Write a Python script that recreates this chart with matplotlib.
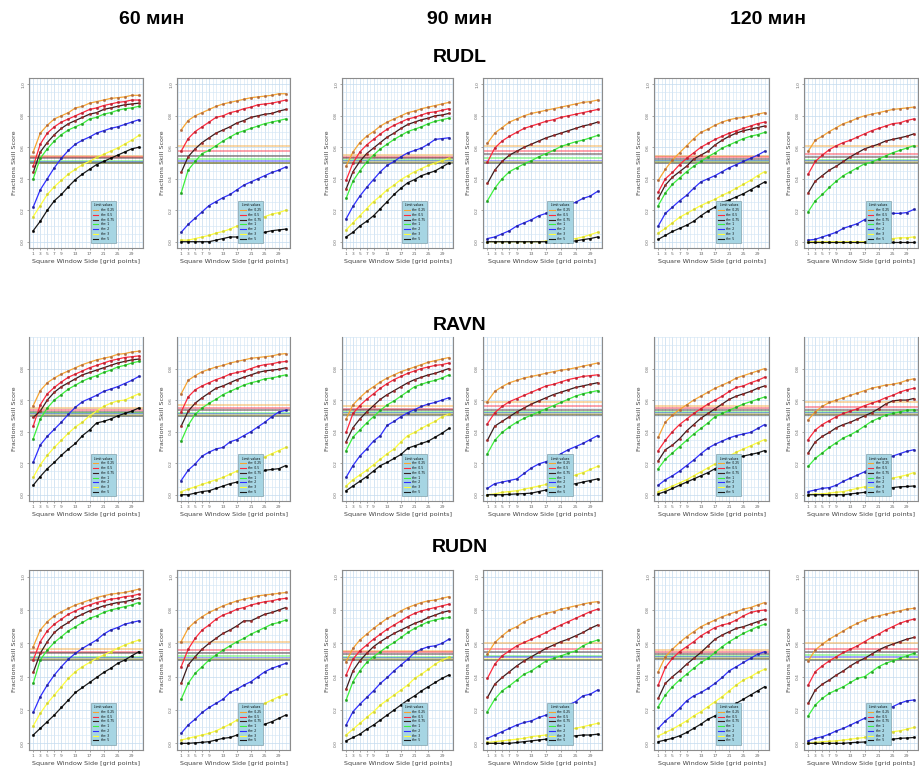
import matplotlib
matplotlib.use("Agg")
import matplotlib.pyplot as plt
from matplotlib.lines import Line2D

# window sizes (grid points)
WINDOW = [1, 3, 5, 7, 9, 11, 13, 15, 17, 19, 21, 23, 25, 27, 29, 31]
X_TICKS = [1, 3, 5, 7, 9, 13, 17, 21, 25, 29]
THRESH_LABELS = ["thr: 0.25", "thr: 0.5", "thr: 0.75", "thr: 1", "thr: 2", "thr: 3", "thr: 5"]
LEGEND_TITLE = "Limit values"
TIMES = ["60 мин", "90 мин", "120 мин"]
STATIONS = ["RUDL", "RAVN", "RUDN"]

# ---- RUDL ----
RUDL_60_A = [
    [0.57, 0.69, 0.74, 0.78, 0.80, 0.82, 0.85, 0.86, 0.88, 0.89, 0.90, 0.91, 0.915, 0.92, 0.93, 0.93],
    [0.48, 0.62, 0.69, 0.73, 0.76, 0.78, 0.80, 0.82, 0.84, 0.85, 0.865, 0.875, 0.885, 0.89, 0.90, 0.90],
    [0.44, 0.57, 0.63, 0.68, 0.72, 0.75, 0.77, 0.79, 0.81, 0.82, 0.84, 0.85, 0.86, 0.87, 0.875, 0.88],
    [0.40, 0.53, 0.59, 0.64, 0.68, 0.71, 0.73, 0.75, 0.78, 0.79, 0.81, 0.82, 0.835, 0.845, 0.85, 0.86],
    [0.22, 0.33, 0.40, 0.47, 0.53, 0.58, 0.62, 0.645, 0.665, 0.69, 0.705, 0.72, 0.73, 0.745, 0.76, 0.775],
    [0.16, 0.23, 0.30, 0.35, 0.39, 0.43, 0.46, 0.49, 0.51, 0.535, 0.555, 0.575, 0.595, 0.62, 0.645, 0.675],
    [0.07, 0.13, 0.20, 0.26, 0.30, 0.35, 0.395, 0.43, 0.46, 0.49, 0.51, 0.53, 0.55, 0.57, 0.59, 0.60],
]
RUDL_60_A_REF = [0.545, 0.535, 0.53, 0.51, 0.505, 0.502, 0.50]
RUDL_60_B = [
    [0.71, 0.77, 0.80, 0.82, 0.84, 0.86, 0.875, 0.885, 0.895, 0.905, 0.915, 0.92, 0.925, 0.93, 0.94, 0.94],
    [0.575, 0.655, 0.70, 0.73, 0.76, 0.79, 0.80, 0.82, 0.83, 0.845, 0.855, 0.87, 0.875, 0.88, 0.89, 0.90],
    [0.44, 0.54, 0.59, 0.63, 0.66, 0.69, 0.71, 0.73, 0.755, 0.77, 0.79, 0.80, 0.81, 0.815, 0.83, 0.84],
    [0.31, 0.455, 0.51, 0.56, 0.58, 0.61, 0.64, 0.665, 0.69, 0.705, 0.72, 0.735, 0.75, 0.76, 0.77, 0.78],
    [0.06, 0.11, 0.15, 0.19, 0.23, 0.255, 0.28, 0.30, 0.33, 0.36, 0.38, 0.40, 0.42, 0.44, 0.455, 0.475],
    [0.01, 0.01, 0.02, 0.03, 0.04, 0.055, 0.065, 0.08, 0.10, 0.11, 0.13, 0.145, 0.16, 0.175, 0.185, 0.20],
    [0.0, 0.0, 0.0, 0.0, 0.0, 0.01, 0.02, 0.03, 0.03, 0.04, 0.05, 0.05, 0.06, 0.07, 0.075, 0.08],
]
RUDL_60_B_REF = [0.61, 0.575, 0.545, 0.525, 0.51, 0.503, 0.50]
RUDL_90_A = [
    [0.48, 0.57, 0.63, 0.67, 0.70, 0.735, 0.76, 0.78, 0.80, 0.82, 0.83, 0.845, 0.855, 0.865, 0.875, 0.885],
    [0.39, 0.50, 0.57, 0.615, 0.65, 0.685, 0.715, 0.74, 0.76, 0.78, 0.79, 0.805, 0.82, 0.825, 0.835, 0.845],
    [0.335, 0.445, 0.51, 0.56, 0.595, 0.63, 0.665, 0.69, 0.72, 0.745, 0.76, 0.775, 0.785, 0.80, 0.805, 0.815],
    [0.275, 0.385, 0.45, 0.505, 0.55, 0.59, 0.62, 0.65, 0.675, 0.70, 0.715, 0.73, 0.75, 0.765, 0.775, 0.785],
    [0.145, 0.225, 0.29, 0.345, 0.395, 0.445, 0.485, 0.51, 0.54, 0.565, 0.58, 0.595, 0.62, 0.65, 0.655, 0.66],
    [0.075, 0.12, 0.165, 0.21, 0.255, 0.29, 0.33, 0.36, 0.395, 0.42, 0.445, 0.465, 0.485, 0.50, 0.515, 0.53],
    [0.03, 0.06, 0.10, 0.13, 0.165, 0.21, 0.255, 0.30, 0.34, 0.375, 0.395, 0.42, 0.435, 0.45, 0.475, 0.50],
]
RUDL_90_A_REF = [0.55, 0.54, 0.53, 0.52, 0.51, 0.505, 0.50]
RUDL_90_B = [
    [0.625, 0.69, 0.725, 0.76, 0.78, 0.80, 0.815, 0.825, 0.835, 0.845, 0.855, 0.865, 0.875, 0.885, 0.89, 0.90],
    [0.505, 0.595, 0.64, 0.67, 0.695, 0.72, 0.735, 0.75, 0.765, 0.775, 0.79, 0.80, 0.81, 0.82, 0.83, 0.84],
    [0.37, 0.455, 0.51, 0.55, 0.575, 0.60, 0.62, 0.64, 0.66, 0.675, 0.69, 0.705, 0.72, 0.735, 0.745, 0.76],
    [0.26, 0.34, 0.40, 0.445, 0.47, 0.495, 0.515, 0.54, 0.56, 0.58, 0.605, 0.62, 0.635, 0.645, 0.66, 0.675],
    [0.02, 0.03, 0.05, 0.07, 0.10, 0.12, 0.14, 0.165, 0.18, 0.20, 0.215, 0.235, 0.25, 0.275, 0.29, 0.32],
    [0.0, 0.0, 0.0, 0.0, 0.0, 0.0, 0.0, 0.0, 0.003, 0.005, 0.01, 0.015, 0.02, 0.03, 0.045, 0.06],
    [0.0, 0.0, 0.0, 0.0, 0.0, 0.0, 0.0, 0.0, 0.0, 0.0, 0.0, 0.0, 0.005, 0.013, 0.02, 0.03],
]
RUDL_90_B_REF = [0.61, 0.575, 0.56, 0.53, 0.51, 0.505, 0.50]
RUDL_120_A = [
    [0.39, 0.46, 0.52, 0.565, 0.61, 0.655, 0.695, 0.715, 0.74, 0.76, 0.775, 0.785, 0.79, 0.80, 0.81, 0.82],
    [0.315, 0.40, 0.44, 0.49, 0.53, 0.565, 0.60, 0.625, 0.65, 0.67, 0.69, 0.705, 0.72, 0.735, 0.75, 0.76],
    [0.275, 0.36, 0.41, 0.445, 0.48, 0.525, 0.55, 0.575, 0.615, 0.645, 0.67, 0.69, 0.705, 0.715, 0.725, 0.735],
    [0.23, 0.31, 0.365, 0.405, 0.445, 0.48, 0.51, 0.54, 0.565, 0.595, 0.615, 0.635, 0.655, 0.67, 0.68, 0.695],
    [0.10, 0.18, 0.22, 0.26, 0.295, 0.34, 0.38, 0.40, 0.42, 0.445, 0.47, 0.49, 0.51, 0.53, 0.55, 0.575],
    [0.055, 0.085, 0.12, 0.155, 0.18, 0.205, 0.23, 0.25, 0.27, 0.295, 0.315, 0.34, 0.365, 0.39, 0.42, 0.445],
    [0.015, 0.04, 0.065, 0.085, 0.105, 0.13, 0.165, 0.195, 0.22, 0.25, 0.265, 0.285, 0.305, 0.33, 0.355, 0.38],
]
RUDL_120_A_REF = [0.545, 0.535, 0.525, 0.515, 0.51, 0.505, 0.50]
RUDL_120_B = [
    [0.575, 0.645, 0.67, 0.70, 0.725, 0.75, 0.765, 0.785, 0.80, 0.81, 0.82, 0.83, 0.84, 0.845, 0.85, 0.855],
    [0.43, 0.51, 0.55, 0.585, 0.61, 0.63, 0.645, 0.665, 0.685, 0.705, 0.72, 0.735, 0.75, 0.755, 0.77, 0.78],
    [0.31, 0.385, 0.42, 0.455, 0.48, 0.51, 0.54, 0.565, 0.59, 0.605, 0.62, 0.64, 0.65, 0.66, 0.67, 0.685],
    [0.19, 0.26, 0.30, 0.345, 0.385, 0.42, 0.445, 0.47, 0.495, 0.505, 0.525, 0.545, 0.565, 0.58, 0.595, 0.61],
    [0.01, 0.015, 0.03, 0.045, 0.06, 0.085, 0.10, 0.115, 0.14, 0.165, 0.18, 0.185, 0.18, 0.18, 0.185, 0.205],
    [0.0, 0.0, 0.0, 0.0, 0.0, 0.0, 0.0, 0.0, 0.0, 0.005, 0.01, 0.015, 0.02, 0.025, 0.025, 0.03],
    [0.0, 0.0, 0.0, 0.0, 0.0, 0.0, 0.0, 0.0, 0.0, 0.0, 0.0, 0.0, 0.0, 0.0, 0.0, 0.0],
]
RUDL_120_B_REF = [0.605, 0.555, 0.54, 0.52, 0.51, 0.505, 0.50]

# ---- RAVN ----
RAVN_60_A = [
    [0.565, 0.66, 0.71, 0.74, 0.765, 0.785, 0.805, 0.825, 0.84, 0.855, 0.865, 0.875, 0.89, 0.895, 0.905, 0.91],
    [0.435, 0.57, 0.64, 0.68, 0.715, 0.745, 0.765, 0.785, 0.805, 0.82, 0.835, 0.85, 0.86, 0.87, 0.875, 0.88],
    [0.49, 0.53, 0.60, 0.65, 0.685, 0.71, 0.735, 0.76, 0.775, 0.79, 0.805, 0.82, 0.835, 0.845, 0.855, 0.86],
    [0.355, 0.48, 0.55, 0.60, 0.635, 0.67, 0.695, 0.72, 0.74, 0.755, 0.775, 0.79, 0.81, 0.82, 0.835, 0.845],
    [0.205, 0.315, 0.37, 0.415, 0.46, 0.51, 0.555, 0.59, 0.61, 0.63, 0.655, 0.67, 0.685, 0.705, 0.725, 0.75],
    [0.11, 0.19, 0.25, 0.30, 0.345, 0.39, 0.43, 0.46, 0.50, 0.53, 0.56, 0.58, 0.595, 0.60, 0.62, 0.64],
    [0.06, 0.115, 0.165, 0.205, 0.25, 0.29, 0.325, 0.375, 0.41, 0.455, 0.465, 0.48, 0.50, 0.515, 0.53, 0.55],
]
RAVN_60_A_REF = [0.55, 0.535, 0.525, 0.515, 0.51, 0.505, 0.50]
RAVN_60_B = [
    [0.64, 0.725, 0.755, 0.78, 0.795, 0.81, 0.82, 0.835, 0.845, 0.855, 0.865, 0.87, 0.875, 0.88, 0.89, 0.895],
    [0.525, 0.62, 0.665, 0.69, 0.71, 0.73, 0.745, 0.765, 0.775, 0.785, 0.80, 0.815, 0.825, 0.83, 0.84, 0.845],
    [0.435, 0.53, 0.58, 0.615, 0.645, 0.675, 0.69, 0.71, 0.73, 0.745, 0.76, 0.775, 0.785, 0.79, 0.795, 0.805],
    [0.34, 0.44, 0.51, 0.55, 0.58, 0.605, 0.635, 0.655, 0.675, 0.695, 0.71, 0.72, 0.735, 0.74, 0.75, 0.76],
    [0.09, 0.155, 0.195, 0.245, 0.27, 0.29, 0.30, 0.335, 0.35, 0.375, 0.40, 0.43, 0.46, 0.495, 0.525, 0.535],
    [0.02, 0.035, 0.05, 0.065, 0.08, 0.095, 0.11, 0.13, 0.15, 0.17, 0.19, 0.215, 0.24, 0.26, 0.28, 0.30],
    [0.0, 0.0, 0.01, 0.02, 0.025, 0.04, 0.055, 0.07, 0.08, 0.095, 0.11, 0.13, 0.155, 0.16, 0.165, 0.185],
]
RAVN_60_B_REF = [0.57, 0.55, 0.535, 0.52, 0.51, 0.505, 0.50]
RAVN_90_A = [
    [0.48, 0.57, 0.615, 0.655, 0.685, 0.715, 0.74, 0.76, 0.78, 0.795, 0.81, 0.825, 0.84, 0.85, 0.86, 0.87],
    [0.395, 0.515, 0.565, 0.605, 0.64, 0.675, 0.705, 0.73, 0.75, 0.77, 0.785, 0.80, 0.81, 0.82, 0.825, 0.835],
    [0.335, 0.425, 0.48, 0.525, 0.565, 0.605, 0.635, 0.66, 0.685, 0.71, 0.73, 0.745, 0.76, 0.77, 0.785, 0.80],
    [0.28, 0.365, 0.41, 0.455, 0.495, 0.535, 0.57, 0.595, 0.625, 0.655, 0.685, 0.70, 0.715, 0.725, 0.74, 0.76],
    [0.11, 0.185, 0.245, 0.29, 0.34, 0.375, 0.44, 0.465, 0.495, 0.52, 0.54, 0.56, 0.575, 0.585, 0.60, 0.615],
    [0.055, 0.095, 0.125, 0.155, 0.19, 0.225, 0.26, 0.29, 0.335, 0.375, 0.395, 0.42, 0.445, 0.465, 0.495, 0.51],
    [0.025, 0.055, 0.085, 0.115, 0.15, 0.185, 0.205, 0.23, 0.255, 0.295, 0.31, 0.325, 0.34, 0.365, 0.39, 0.42],
]
RAVN_90_A_REF = [0.56, 0.545, 0.535, 0.525, 0.515, 0.51, 0.505]
RAVN_90_B = [
    [0.59, 0.655, 0.685, 0.71, 0.725, 0.74, 0.75, 0.76, 0.77, 0.78, 0.79, 0.795, 0.805, 0.815, 0.825, 0.835],
    [0.45, 0.52, 0.56, 0.59, 0.61, 0.63, 0.65, 0.67, 0.69, 0.70, 0.715, 0.73, 0.74, 0.75, 0.755, 0.76],
    [0.345, 0.435, 0.465, 0.495, 0.525, 0.55, 0.575, 0.595, 0.615, 0.635, 0.65, 0.665, 0.68, 0.69, 0.70, 0.71],
    [0.26, 0.345, 0.395, 0.43, 0.46, 0.485, 0.505, 0.525, 0.545, 0.565, 0.585, 0.605, 0.625, 0.64, 0.65, 0.66],
    [0.04, 0.07, 0.08, 0.09, 0.10, 0.135, 0.17, 0.195, 0.21, 0.23, 0.26, 0.285, 0.305, 0.325, 0.35, 0.375],
    [0.0, 0.005, 0.015, 0.02, 0.025, 0.035, 0.045, 0.055, 0.065, 0.08, 0.095, 0.11, 0.125, 0.14, 0.16, 0.18],
    [0.0, 0.0, 0.0, 0.002, 0.005, 0.007, 0.01, 0.02, 0.03, 0.04, 0.05, 0.06, 0.07, 0.08, 0.09, 0.10],
]
RAVN_90_B_REF = [0.59, 0.56, 0.54, 0.525, 0.515, 0.51, 0.505]
RAVN_120_A = [
    [0.365, 0.46, 0.505, 0.54, 0.57, 0.60, 0.625, 0.65, 0.675, 0.695, 0.715, 0.74, 0.755, 0.77, 0.785, 0.80],
    [0.28, 0.345, 0.40, 0.445, 0.48, 0.515, 0.545, 0.575, 0.60, 0.625, 0.655, 0.68, 0.69, 0.71, 0.725, 0.745],
    [0.215, 0.285, 0.315, 0.355, 0.405, 0.445, 0.485, 0.515, 0.545, 0.575, 0.605, 0.625, 0.64, 0.655, 0.675, 0.69],
    [0.165, 0.225, 0.265, 0.305, 0.345, 0.385, 0.42, 0.455, 0.495, 0.515, 0.535, 0.555, 0.575, 0.59, 0.605, 0.62],
    [0.06, 0.095, 0.12, 0.15, 0.185, 0.22, 0.26, 0.295, 0.32, 0.34, 0.36, 0.375, 0.385, 0.395, 0.42, 0.445],
    [0.02, 0.035, 0.055, 0.075, 0.095, 0.12, 0.145, 0.17, 0.195, 0.22, 0.245, 0.27, 0.29, 0.31, 0.33, 0.35],
    [0.005, 0.02, 0.04, 0.06, 0.08, 0.10, 0.12, 0.14, 0.165, 0.19, 0.215, 0.235, 0.245, 0.255, 0.265, 0.28],
]
RAVN_120_A_REF = [0.56, 0.55, 0.54, 0.525, 0.515, 0.51, 0.505]
RAVN_120_B = [
    [0.475, 0.525, 0.56, 0.585, 0.60, 0.615, 0.63, 0.645, 0.66, 0.675, 0.685, 0.695, 0.70, 0.71, 0.725, 0.735],
    [0.35, 0.41, 0.445, 0.47, 0.495, 0.515, 0.53, 0.545, 0.565, 0.58, 0.595, 0.615, 0.63, 0.65, 0.665, 0.675],
    [0.265, 0.335, 0.37, 0.395, 0.425, 0.445, 0.46, 0.48, 0.50, 0.52, 0.545, 0.575, 0.595, 0.60, 0.60, 0.61],
    [0.18, 0.23, 0.265, 0.30, 0.33, 0.36, 0.38, 0.405, 0.435, 0.465, 0.485, 0.505, 0.515, 0.525, 0.535, 0.54],
    [0.02, 0.03, 0.04, 0.045, 0.06, 0.085, 0.105, 0.125, 0.145, 0.175, 0.20, 0.225, 0.245, 0.26, 0.275, 0.285],
    [0.0, 0.005, 0.005, 0.01, 0.015, 0.02, 0.03, 0.04, 0.05, 0.065, 0.08, 0.09, 0.105, 0.115, 0.125, 0.14],
    [0.0, 0.0, 0.0, 0.0, 0.0, 0.0, 0.005, 0.01, 0.015, 0.025, 0.035, 0.04, 0.045, 0.05, 0.052, 0.055],
]
RAVN_120_B_REF = [0.59, 0.555, 0.54, 0.525, 0.515, 0.51, 0.505]

# ---- RUDN ----
RUDN_60_A = [
    [0.58, 0.68, 0.73, 0.765, 0.79, 0.81, 0.83, 0.845, 0.86, 0.875, 0.885, 0.895, 0.90, 0.905, 0.915, 0.925],
    [0.50, 0.61, 0.675, 0.715, 0.745, 0.775, 0.795, 0.815, 0.83, 0.845, 0.855, 0.865, 0.87, 0.88, 0.885, 0.895],
    [0.425, 0.54, 0.61, 0.665, 0.70, 0.725, 0.755, 0.775, 0.795, 0.81, 0.825, 0.835, 0.845, 0.85, 0.86, 0.87],
    [0.36, 0.50, 0.56, 0.605, 0.64, 0.675, 0.70, 0.725, 0.75, 0.765, 0.785, 0.80, 0.81, 0.82, 0.83, 0.845],
    [0.185, 0.28, 0.35, 0.41, 0.46, 0.505, 0.54, 0.57, 0.595, 0.62, 0.655, 0.68, 0.695, 0.715, 0.725, 0.735],
    [0.105, 0.18, 0.24, 0.29, 0.34, 0.39, 0.43, 0.46, 0.485, 0.51, 0.53, 0.55, 0.57, 0.59, 0.605, 0.62],
    [0.05, 0.09, 0.13, 0.17, 0.215, 0.26, 0.305, 0.335, 0.365, 0.395, 0.425, 0.45, 0.48, 0.50, 0.525, 0.55],
]
RUDN_60_A_REF = [0.565, 0.55, 0.54, 0.52, 0.51, 0.505, 0.50]
RUDN_60_B = [
    [0.61, 0.69, 0.73, 0.76, 0.785, 0.805, 0.825, 0.84, 0.855, 0.865, 0.875, 0.885, 0.89, 0.895, 0.90, 0.905],
    [0.46, 0.565, 0.63, 0.68, 0.71, 0.745, 0.77, 0.785, 0.805, 0.815, 0.83, 0.84, 0.85, 0.855, 0.865, 0.87],
    [0.36, 0.47, 0.52, 0.565, 0.60, 0.63, 0.66, 0.68, 0.705, 0.735, 0.735, 0.755, 0.775, 0.785, 0.80, 0.815],
    [0.265, 0.36, 0.42, 0.46, 0.50, 0.53, 0.56, 0.585, 0.61, 0.63, 0.655, 0.675, 0.695, 0.715, 0.725, 0.74],
    [0.06, 0.11, 0.145, 0.185, 0.215, 0.24, 0.265, 0.305, 0.325, 0.35, 0.37, 0.40, 0.43, 0.45, 0.465, 0.48],
    [0.02, 0.03, 0.04, 0.05, 0.06, 0.075, 0.095, 0.115, 0.14, 0.165, 0.19, 0.215, 0.24, 0.26, 0.28, 0.295],
    [0.0, 0.0, 0.003, 0.006, 0.01, 0.02, 0.03, 0.035, 0.05, 0.07, 0.085, 0.10, 0.115, 0.13, 0.15, 0.17],
]
RUDN_60_B_REF = [0.605, 0.56, 0.54, 0.525, 0.51, 0.505, 0.50]
RUDN_90_A = [
    [0.49, 0.57, 0.62, 0.655, 0.69, 0.72, 0.75, 0.77, 0.795, 0.815, 0.83, 0.845, 0.855, 0.86, 0.87, 0.88],
    [0.41, 0.505, 0.555, 0.59, 0.625, 0.655, 0.685, 0.71, 0.735, 0.76, 0.78, 0.795, 0.805, 0.815, 0.825, 0.835],
    [0.325, 0.435, 0.495, 0.54, 0.58, 0.61, 0.635, 0.66, 0.68, 0.70, 0.72, 0.735, 0.755, 0.77, 0.785, 0.795],
    [0.26, 0.37, 0.435, 0.485, 0.52, 0.55, 0.58, 0.605, 0.635, 0.665, 0.69, 0.71, 0.73, 0.74, 0.75, 0.755],
    [0.11, 0.19, 0.235, 0.275, 0.315, 0.36, 0.395, 0.435, 0.47, 0.505, 0.545, 0.565, 0.58, 0.585, 0.60, 0.625],
    [0.05, 0.085, 0.12, 0.155, 0.19, 0.23, 0.26, 0.29, 0.32, 0.35, 0.39, 0.415, 0.445, 0.475, 0.50, 0.515],
    [0.015, 0.035, 0.055, 0.085, 0.11, 0.14, 0.17, 0.20, 0.23, 0.26, 0.285, 0.315, 0.34, 0.365, 0.39, 0.41],
]
RUDN_90_A_REF = [0.555, 0.545, 0.535, 0.52, 0.51, 0.505, 0.50]
RUDN_90_B = [
    [0.535, 0.605, 0.645, 0.68, 0.70, 0.73, 0.75, 0.765, 0.78, 0.79, 0.805, 0.815, 0.825, 0.835, 0.845, 0.85],
    [0.39, 0.475, 0.525, 0.555, 0.585, 0.605, 0.625, 0.645, 0.665, 0.69, 0.71, 0.73, 0.75, 0.77, 0.79, 0.805],
    [0.275, 0.355, 0.395, 0.43, 0.465, 0.495, 0.52, 0.545, 0.57, 0.59, 0.61, 0.625, 0.645, 0.665, 0.69, 0.71],
    [0.19, 0.265, 0.315, 0.345, 0.38, 0.415, 0.435, 0.465, 0.495, 0.51, 0.525, 0.54, 0.555, 0.585, 0.605, 0.62],
    [0.03, 0.05, 0.07, 0.09, 0.11, 0.125, 0.135, 0.155, 0.17, 0.19, 0.205, 0.23, 0.25, 0.285, 0.295, 0.32],
    [0.005, 0.01, 0.015, 0.02, 0.025, 0.03, 0.04, 0.045, 0.05, 0.06, 0.07, 0.08, 0.09, 0.10, 0.11, 0.12],
    [0.0, 0.0, 0.0, 0.0, 0.005, 0.01, 0.015, 0.02, 0.025, 0.03, 0.035, 0.04, 0.045, 0.05, 0.05, 0.055],
]
RUDN_90_B_REF = [0.60, 0.565, 0.545, 0.525, 0.515, 0.505, 0.50]
RUDN_120_A = [
    [0.43, 0.52, 0.565, 0.605, 0.64, 0.67, 0.70, 0.72, 0.74, 0.76, 0.775, 0.79, 0.805, 0.815, 0.83, 0.845],
    [0.35, 0.455, 0.51, 0.55, 0.58, 0.61, 0.645, 0.67, 0.695, 0.71, 0.72, 0.74, 0.765, 0.785, 0.795, 0.80],
    [0.27, 0.36, 0.40, 0.435, 0.475, 0.51, 0.545, 0.585, 0.625, 0.65, 0.67, 0.69, 0.70, 0.715, 0.73, 0.745],
    [0.22, 0.29, 0.34, 0.38, 0.415, 0.45, 0.485, 0.51, 0.545, 0.58, 0.61, 0.635, 0.66, 0.68, 0.70, 0.715],
    [0.09, 0.135, 0.17, 0.21, 0.255, 0.285, 0.305, 0.33, 0.36, 0.395, 0.435, 0.46, 0.485, 0.51, 0.535, 0.55],
    [0.045, 0.065, 0.085, 0.11, 0.135, 0.165, 0.19, 0.22, 0.25, 0.28, 0.315, 0.35, 0.38, 0.40, 0.425, 0.445],
    [0.01, 0.02, 0.03, 0.045, 0.065, 0.09, 0.115, 0.145, 0.165, 0.19, 0.21, 0.24, 0.265, 0.29, 0.315, 0.34],
]
RUDN_120_A_REF = [0.56, 0.545, 0.535, 0.525, 0.515, 0.51, 0.505]
RUDN_120_B = [
    [0.495, 0.56, 0.595, 0.625, 0.65, 0.675, 0.70, 0.72, 0.74, 0.755, 0.765, 0.775, 0.785, 0.795, 0.805, 0.81],
    [0.35, 0.43, 0.465, 0.495, 0.52, 0.545, 0.565, 0.585, 0.61, 0.635, 0.655, 0.68, 0.70, 0.72, 0.735, 0.745],
    [0.24, 0.32, 0.355, 0.38, 0.41, 0.435, 0.465, 0.49, 0.51, 0.535, 0.56, 0.58, 0.595, 0.61, 0.625, 0.635],
    [0.165, 0.23, 0.27, 0.30, 0.32, 0.34, 0.365, 0.39, 0.40, 0.43, 0.46, 0.48, 0.495, 0.51, 0.525, 0.54],
    [0.015, 0.03, 0.04, 0.055, 0.075, 0.09, 0.11, 0.13, 0.15, 0.165, 0.19, 0.205, 0.22, 0.24, 0.255, 0.26],
    [0.0, 0.005, 0.01, 0.012, 0.015, 0.02, 0.025, 0.03, 0.035, 0.045, 0.05, 0.06, 0.07, 0.075, 0.085, 0.095],
    [0.0, 0.0, 0.0, 0.0, 0.0, 0.0, 0.004, 0.006, 0.008, 0.012, 0.015, 0.018, 0.025, 0.03, 0.032, 0.035],
]
RUDN_120_B_REF = [0.60, 0.565, 0.545, 0.53, 0.515, 0.505, 0.50]

# styling
LINE_COLORS = ["#f7a531", "#ff2a3c", "#3a1c1c", "#3cf03c", "#2e2eff", "#ffff3c", "#1a1a1a"]
MARKER_COLORS = ["#b0683a", "#b82030", "#9a2828", "#20a020", "#20209a", "#d0d030", "#000000"]
GRID_COLOR = "#d4e6f5"
LEGEND_BG = "#a6d5e3"

PANELS = [
    [(RUDL_60_A, RUDL_60_A_REF), (RUDL_60_B, RUDL_60_B_REF),
     (RUDL_90_A, RUDL_90_A_REF), (RUDL_90_B, RUDL_90_B_REF),
     (RUDL_120_A, RUDL_120_A_REF), (RUDL_120_B, RUDL_120_B_REF)],
    [(RAVN_60_A, RAVN_60_A_REF), (RAVN_60_B, RAVN_60_B_REF),
     (RAVN_90_A, RAVN_90_A_REF), (RAVN_90_B, RAVN_90_B_REF),
     (RAVN_120_A, RAVN_120_A_REF), (RAVN_120_B, RAVN_120_B_REF)],
    [(RUDN_60_A, RUDN_60_A_REF), (RUDN_60_B, RUDN_60_B_REF),
     (RUDN_90_A, RUDN_90_A_REF), (RUDN_90_B, RUDN_90_B_REF),
     (RUDN_120_A, RUDN_120_A_REF), (RUDN_120_B, RUDN_120_B_REF)],
]

FIG_W, FIG_H = 919, 774
COL_PX = [(29, 143), (177, 290), (342, 453), (483, 602), (654, 769), (804, 918)]
# (top px, bottom px, y upper limit, show top frame)
ROW_PX = [(78, 248, 1.04, True), (337, 501, 0.925, False), (570, 750, 1.04, True)]


def draw_panel(ax, series, refs, ytop, show_top):
    ax.set_xlim(-0.2, 32.2)
    ax.set_ylim(-0.04, ytop)
    ax.set_xticks(range(0, 33), minor=True)
    ax.set_yticks([i * 0.05 for i in range(0, 21)], minor=True)
    ax.grid(which="minor", color=GRID_COLOR, linewidth=0.45)
    ax.grid(which="major", color="#c4dbef", linewidth=0.5)
    ax.set_axisbelow(True)

    for col, level in zip(LINE_COLORS, refs):
        ax.axhline(level, color=col, linewidth=1.1, alpha=0.55, zorder=1)

    for k, vals in enumerate(series):
        ax.plot(WINDOW, vals, color=LINE_COLORS[k], linewidth=0.9, marker="o",
                markersize=1.8, markerfacecolor=MARKER_COLORS[k],
                markeredgecolor=MARKER_COLORS[k], markeredgewidth=0.2, zorder=3)

    ax.set_xticks(X_TICKS)
    ax.set_xticklabels([str(v) for v in X_TICKS])
    yt = [0.0, 0.2, 0.4, 0.6, 0.8, 1.0]
    yt = [v for v in yt if v <= ytop]
    ax.set_yticks(yt)
    ax.set_yticklabels([f"{v:.1f}" for v in yt], rotation=90, va="center")
    ax.tick_params(which="major", labelsize=3.2, length=1.6, width=0.4,
                   colors="#666666", pad=1.2)
    ax.tick_params(which="minor", length=0)
    ax.set_xlabel("Square Window Side [grid points]", fontsize=4.6, color="#444444", labelpad=2)
    ax.set_ylabel("Fractions Skill Score", fontsize=4.6, color="#444444", labelpad=3)
    for side, sp in ax.spines.items():
        sp.set_color("#8c8c8c")
        sp.set_linewidth(0.8)
    if not show_top:
        ax.spines["top"].set_visible(False)

    handles = [Line2D([], [], color=c, linewidth=0.8) for c in LINE_COLORS]
    leg = ax.legend(handles, THRESH_LABELS, title=LEGEND_TITLE, loc="lower left",
                    bbox_to_anchor=(0.54, 0.03), fontsize=2.2, title_fontsize=2.2,
                    frameon=True, fancybox=False, facecolor=LEGEND_BG,
                    edgecolor="#6f8f99", framealpha=1.0, handlelength=1.8,
                    handletextpad=0.8, borderpad=0.7, labelspacing=0.25,
                    borderaxespad=0.0)
    leg.get_frame().set_linewidth(0.4)
    leg.set_zorder(5)


fig = plt.figure(figsize=(FIG_W / 100, FIG_H / 100), dpi=100)

for r, (top, bottom, ytop, show_top) in enumerate(ROW_PX):
    for c, (left, right) in enumerate(COL_PX):
        ax = fig.add_axes([left / FIG_W, 1 - bottom / FIG_H,
                           (right - left) / FIG_W, (bottom - top) / FIG_H])
        series, refs = PANELS[r][c]
        draw_panel(ax, series, refs, ytop, show_top)

head_font = dict(fontsize=14, fontweight="bold",
                 family=["Liberation Sans Narrow", "Liberation Sans", "DejaVu Sans"],
                 ha="center", va="center")
for x_px, label in zip([152, 460, 768], TIMES):
    fig.text(x_px / FIG_W, 1 - 19 / FIG_H, label, **head_font)
for y_px, label in zip([57, 325, 548], STATIONS):
    fig.text(460 / FIG_W, 1 - y_px / FIG_H, label, **head_font)

fig.savefig("out.png", dpi=100)
plt.close(fig)
